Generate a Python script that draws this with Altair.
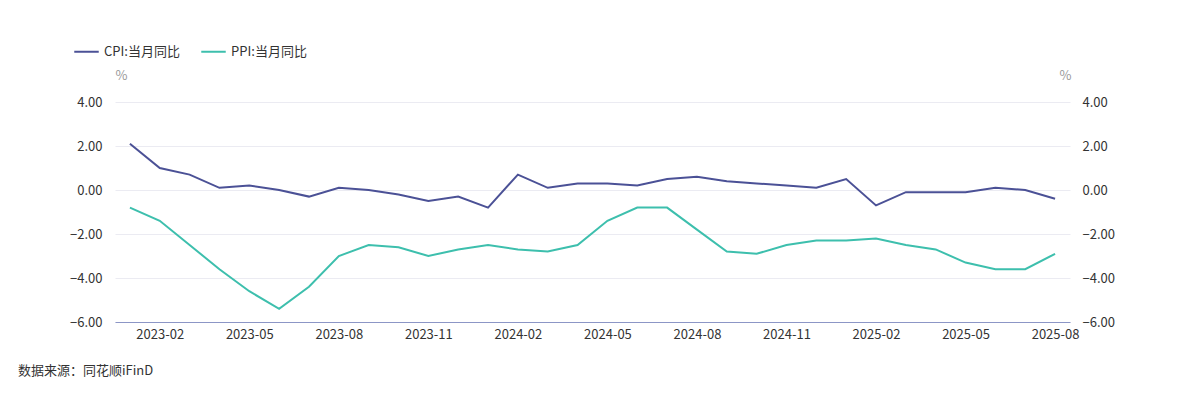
import altair as alt
import pandas as pd

months = [
    "2023-01","2023-02","2023-03","2023-04","2023-05","2023-06","2023-07","2023-08","2023-09","2023-10","2023-11","2023-12",
    "2024-01","2024-02","2024-03","2024-04","2024-05","2024-06","2024-07","2024-08","2024-09","2024-10","2024-11","2024-12",
    "2025-01","2025-02","2025-03","2025-04","2025-05","2025-06","2025-07","2025-08",
]
cpi = [2.1, 1.0, 0.7, 0.1, 0.2, 0.0, -0.3, 0.1, 0.0, -0.2, -0.5, -0.3,
       -0.8, 0.7, 0.1, 0.3, 0.3, 0.2, 0.5, 0.6, 0.4, 0.3, 0.2, 0.1,
       0.5, -0.7, -0.1, -0.1, -0.1, 0.1, 0.0, -0.4]
ppi = [-0.8, -1.4, -2.5, -3.6, -4.6, -5.4, -4.4, -3.0, -2.5, -2.6, -3.0, -2.7,
       -2.5, -2.7, -2.8, -2.5, -1.4, -0.8, -0.8, -1.8, -2.8, -2.9, -2.5, -2.3,
       -2.3, -2.2, -2.5, -2.7, -3.3, -3.6, -3.6, -2.9]
series_names = ["CPI:当月同比", "PPI:当月同比"]
series_colors = ["#4B5196", "#3DBFAD"]
tick_months = ["2023-02","2023-05","2023-08","2023-11","2024-02","2024-05","2024-08","2024-11","2025-02","2025-05","2025-08"]
y_ticks = [-6, -4, -2, 0, 2, 4]

df = pd.DataFrame({
    "month": months * 2,
    "value": cpi + ppi,
    "series": [series_names[0]] * len(months) + [series_names[1]] * len(months),
})

FONT = "Noto Sans CJK SC"

x_enc = alt.X(
    "month:O",
    sort=months,
    scale=alt.Scale(type="point", padding=0.5),
    axis=alt.Axis(
        values=tick_months, title=None, labelAngle=0, ticks=False,
        domainColor="#8C96C6", domainWidth=1, labelColor="#333333",
        labelFontSize=13, labelPadding=6, grid=False, labelFont=FONT,
    ),
)

color_enc = alt.Color(
    "series:N",
    scale=alt.Scale(domain=series_names, range=series_colors),
    legend=alt.Legend(
        title=None, orient="none", direction="horizontal",
        legendX=-42, legendY=-64, symbolType="stroke", symbolSize=600,
        symbolStrokeWidth=2, labelFontSize=13, labelColor="#333333",
        labelFont=FONT, columnPadding=17, labelOffset=4,
    ),
)

y_scale = alt.Scale(domain=[-6, 4], nice=False)

left = alt.Chart(df).transform_filter(
    alt.datum.series == series_names[0]
).mark_line(strokeWidth=2).encode(
    x=x_enc,
    y=alt.Y("value:Q", scale=y_scale, axis=alt.Axis(
        values=y_ticks, format=".2f", title="%", titleAngle=0, titleX=6, titleY=-20,
        titleColor="#999999", titleFontWeight="normal", titleFontSize=13, titleFont=FONT,
        domain=False, ticks=False, labelPadding=13, labelColor="#333333",
        labelFontSize=13, labelFont=FONT, gridColor="#EBEBF2", orient="left",
    )),
    color=color_enc,
)

right = alt.Chart(df).transform_filter(
    alt.datum.series == series_names[1]
).mark_line(strokeWidth=2).encode(
    x=x_enc,
    y=alt.Y("value:Q", scale=y_scale, axis=alt.Axis(
        values=y_ticks, format=".2f", title="%", titleAngle=0, titleX=-5, titleY=-20,
        titleColor="#999999", titleFontWeight="normal", titleFontSize=13, titleFont=FONT,
        domain=False, ticks=False, labelPadding=12, labelColor="#333333",
        labelFontSize=13, labelFont=FONT, grid=False, orient="right",
    )),
    color=color_enc,
)

chart = alt.layer(left, right).resolve_scale(y="independent").properties(
    width=955,
    height=220,
    autosize=alt.AutoSizeParams(type="none"),
    padding={"left": 107, "top": 94, "right": 106, "bottom": 60},
    title=alt.TitleParams(
        "数据来源：同花顺iFinD", orient="bottom", anchor="start", frame="group",
        dx=-97, offset=24, fontSize=13, fontWeight="normal", color="#333333", font=FONT,
    ),
).configure_view(stroke=None)

chart.save("out.html", embed_options={"renderer": "svg", "actions": False})
